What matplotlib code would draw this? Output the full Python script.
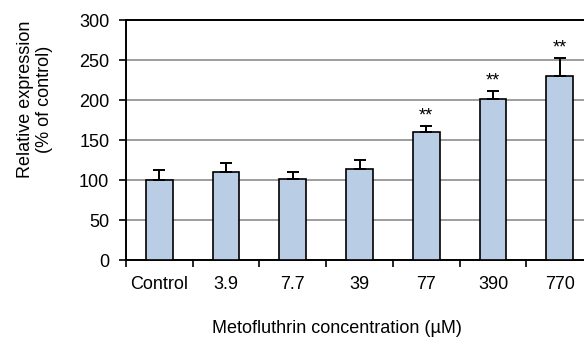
import matplotlib.pyplot as plt
import numpy as np

plt.rcParams['font.family'] = ['Liberation Sans', 'DejaVu Sans']

# значения с картинки
concentrations = ['Control', '3.9', '7.7', '39', '77', '390', '770']
expression = [100, 110, 101, 114, 160, 201, 230]
errors = [12, 11, 9, 11, 7, 10, 22]
stars = ['', '', '', '', '**', '**', '**']

fig = plt.figure(figsize=(5.84, 3.39), dpi=100)
# правый край осей выходит за картинку, как в оригинале
ax = fig.add_axes([0.2158, 0.233, 0.7997, 0.708])

x = np.arange(len(concentrations))
ax.bar(x, expression, width=0.4, color='#b9cde5', edgecolor='black', linewidth=1.2, zorder=3)
ax.errorbar(x, expression, yerr=[np.zeros(len(errors)), errors], fmt='none',
            ecolor='black', elinewidth=1.4, capsize=4.3, capthick=1.4, zorder=4)

for i, s in enumerate(stars):
    if s:
        ax.text(x[i], expression[i] + errors[i] + 2, s, ha='center', va='bottom', fontsize=13)

ax.set_xlim(-0.5, len(concentrations) - 0.5)
ax.set_ylim(0, 300)
ax.set_yticks(range(0, 301, 50))
ax.yaxis.grid(True, color='#8c8c8c', linewidth=1.2, zorder=0)

# подписи категорий по центру, метки - между категориями
ax.set_xticks(np.arange(-0.5, len(concentrations), 1))
ax.set_xticklabels([])
ax.set_xticks(x, minor=True)
ax.set_xticklabels(concentrations, minor=True)
ax.tick_params(axis='x', which='minor', length=0, pad=11.5, labelsize=13)
ax.tick_params(axis='x', which='major', length=5, width=1.2, direction='out')
ax.tick_params(axis='y', length=5, width=1.2, direction='out', labelsize=13, pad=7)

for sp in ax.spines.values():
    sp.set_linewidth(1.4)
ax.spines['right'].set_visible(False)

ax.set_xlabel('Metofluthrin concentration (µM)', fontsize=13)
ax.set_ylabel('Relative expression\n(% of control)', fontsize=13)
# подписи осей сдвинуты как в оригинале
ax.xaxis.set_label_coords(0.452, -0.25)
ax.yaxis.set_label_coords(-0.156, 0.67)

plt.savefig('out.png', dpi=100)
